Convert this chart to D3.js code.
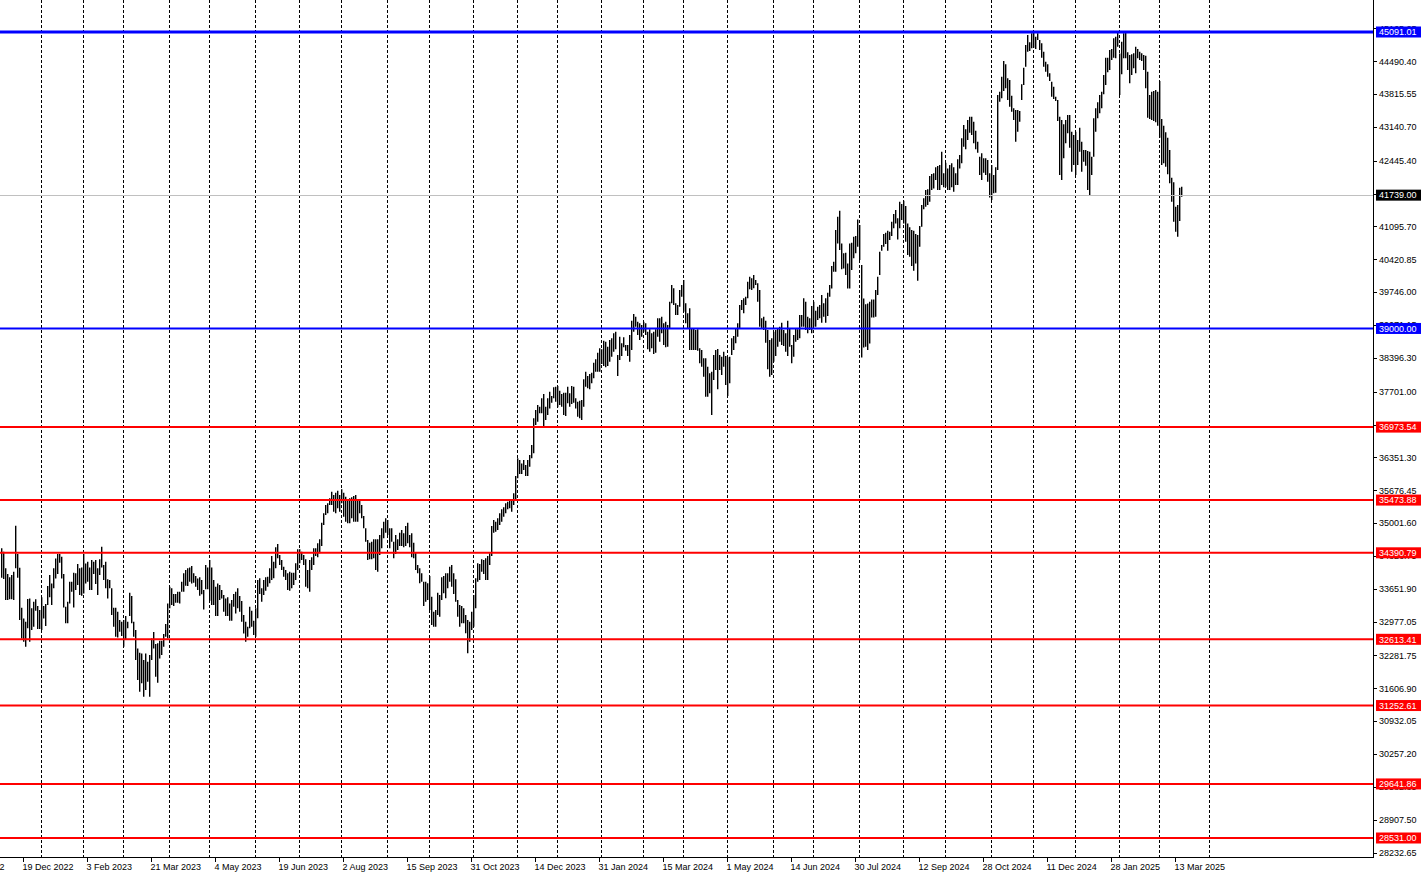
<!DOCTYPE html>
<html><head><meta charset="utf-8">
<script src="https://cdn.jsdelivr.net/npm/d3@7"></script>
<style>body{margin:0;background:#fff}svg{display:block}</style>
</head><body><svg id="c" width="1424" height="872"></svg>
<script>
const highs = [34482,34413,34071,33954,33886,33934,34002,34948,34365,34084,
33262,33043,32975,33441,33454,33249,33386,33434,33297,33214,
33475,33297,33338,33708,33934,33762,34071,34276,34365,34365,
34310,33954,33283,33386,33797,33797,33982,33968,34160,34071,
34091,34365,34173,34208,34091,34242,34208,34242,34071,34256,
34516,34139,34208,33845,33831,33660,33262,33262,33180,33009,
32975,33009,33091,32975,33571,33502,32975,32803,32427,32338,
32324,32187,32324,32153,32290,32632,32762,32516,32530,32584,
32584,32721,32927,33351,33694,33660,33543,33543,33591,33591,
33797,33968,34036,34071,34091,34119,33968,33913,33865,33886,
33831,33626,34139,34091,34242,34091,33831,33694,33762,33728,
33626,33523,33454,33475,33351,33420,33543,33591,33660,33502,
33400,33112,32975,32872,33283,33201,32996,33249,33831,33866,
33660,33831,33886,33900,34071,34325,34208,34503,34571,34345,
34242,34106,34037,33968,34003,33982,33982,34174,34462,34462,
34414,34345,34256,34037,34242,34297,34482,34482,34585,34667,
35010,35202,35373,35407,35510,35647,35578,35626,35667,35578,
35695,35626,35544,35489,35510,35530,35558,35578,35476,35476,
35373,35147,34893,34654,34599,34619,34667,34667,34667,34756,
34893,35030,35099,35065,34893,34893,34619,34756,34667,34804,
34859,34790,34941,35010,34756,34790,34599,34393,34140,34071,
33969,33797,33797,33763,33914,33489,33181,33215,33571,33523,
33886,33914,33969,33969,34106,34140,33969,33845,33420,33318,
33297,33249,33112,33010,32975,33181,33523,33866,34174,34160,
34256,34242,34277,34325,34380,34941,35065,35030,35099,35202,
35284,35325,35407,35441,35489,35489,35613,
35968,36331,36297,
36228,36297,36194,36297,36399,36605,37153,37324,37427,37393,
37564,37653,37393,37564,37701,37612,37790,37804,37817,37721,
37653,37680,37680,37804,37667,37817,37804,37564,37495,37516,
37529,37954,38112,38023,38064,38091,38297,38365,38502,38591,
38571,38749,38728,38626,38763,38797,38900,38934,38454,38831,
38694,38817,38660,38660,38865,39160,39297,39242,39139,39105,
39071,39139,39105,38934,38982,38900,38934,38982,39208,39208,
39242,39105,39139,39071,39550,39893,39824,39516,39482,39790,
39893,39996,39516,39311,39413,39002,39002,38968,38982,38591,
38557,38386,38386,38215,38078,38112,38454,38557,38578,38454,
38420,38523,38434,38406,38420,38797,38845,39002,39105,39482,
39585,39619,39653,39961,40064,40030,40098,39996,39927,39790,
39208,39242,39160,38969,38763,38797,38934,38969,39003,39037,
39119,38969,38900,39160,39003,38660,38866,39003,38982,39277,
39277,39619,39551,39242,39208,39462,39551,39366,39448,39482,
39688,39517,39619,39736,39893,
40282,40371,41022,41296,41419,
40748,40543,40556,40337,40748,40762,40885,40899,41241,41125,
40303,39618,39495,39515,39549,39597,39597,39789,40063,40577,
40714,40940,40967,41008,40988,41193,41351,41433,41262,41604,
41556,41625,41515,41159,41077,41022,41008,40940,40919,41104,
41536,41673,41844,41858,42132,42173,42187,42310,42337,42358,
42632,42187,42406,42289,42358,42392,42310,42187,42474,42563,
42906,43180,43091,43283,43351,43351,43248,43063,42837,42529,
42598,42495,42495,42461,42187,42358,42152,42310,43796,43865,
44173,44495,44427,44139,44105,43783,43523,43488,43488,43468,
44016,44358,44824,45030,44879,45064,45098,44995,45064,44927,
44858,44687,44481,44427,44242,44071,43968,43762,43694,43351,
43283,43194,43283,43386,43386,43043,42975,43043,42872,43125,
42838,42666,42666,42646,42632,42529,43317,43523,43646,43796,
43865,44208,44564,44564,44721,44742,44961,44995,45098,44650,
44893,45064,45098,44673,44618,44632,44653,44790,44742,44687,
44653,44618,44605,44276,43796,43865,43879,43899,43865,44084,
43303,43166,43029,42920,42666,42098,42002,41502,41536,41892,
41913];

const lows = [33879,33852,33420,33420,33434,33434,33420,34071,33879,33009,
32632,32564,32461,32838,32564,32803,32872,33201,32824,32824,
32803,33043,32886,33317,33475,33317,33660,33865,33954,34187,
33865,33269,32941,32941,33351,33591,33269,33626,33728,33523,
33509,33557,33762,33797,33626,33626,33954,33749,33523,33934,
34091,33831,33660,33454,33660,33112,32872,32667,32653,32769,
32680,32461,32612,32838,33091,32941,32667,32187,31776,31536,
31708,31433,31571,31742,31433,32187,32427,31845,31721,32221,
32290,32461,32667,32632,33249,33317,33297,33365,33365,33351,
33591,33591,33715,33708,33797,33762,33776,33694,33626,33509,
33537,33228,33640,33640,33406,33317,33317,33091,33091,33420,
33454,33180,33091,33091,32995,32995,33283,33146,33249,33180,
32975,32735,32564,32667,32838,32872,32701,32667,33044,33544,
33386,33523,33612,33694,33763,33831,33866,34071,34277,34140,
34037,33900,33831,33626,33612,33660,33729,33831,34037,34174,
34242,34140,33694,33660,33592,34037,34140,34325,34297,34379,
34530,34962,35167,35202,35373,35373,35236,35202,35304,35236,
35407,35133,35030,34996,34996,35099,35030,35030,35030,35202,
35099,34893,34619,34242,34256,34256,34277,34037,34003,34345,
34482,34688,34804,34756,34482,34619,34277,34366,34448,34530,
34530,34503,34530,34585,34503,34297,34277,34037,33969,33763,
33797,33297,33386,33420,33215,32907,32873,32873,33112,33078,
33420,33558,33455,33660,33797,33694,33544,33386,33078,32873,
32941,32941,32736,32325,32564,32804,32873,33249,33797,33831,
34003,33955,33831,33831,34140,34325,34804,34825,34859,34962,
35030,35133,35202,35284,35304,35236,35373,
35474,35920,36009,
36009,36091,35968,35968,36160,36331,36434,37016,37084,37256,
37256,36995,37119,37221,37358,37475,37564,37495,37379,37427,
37393,37221,37201,37461,37393,37447,37475,37358,37187,37153,
37119,37393,37804,37769,37749,37872,37975,38112,38112,38112,
38269,38228,38201,38228,38317,38420,38523,38571,38023,38352,
38434,38612,38543,38434,38317,38557,38934,39036,38865,38763,
38831,38934,38865,38571,38523,38591,38475,38502,38831,38728,
38900,38660,38612,38626,39002,39516,39482,39276,39276,39447,
39653,39345,39105,39002,38557,38557,38557,38557,38543,38283,
38215,38009,37598,37598,37667,37221,37941,38146,37749,38146,
38043,38215,37838,37612,37872,38454,38557,38694,38831,39002,
39379,39311,39482,39619,39804,39790,39824,39893,39550,39036,
39002,38968,38708,38160,38010,38044,38318,38434,38626,38729,
38660,38640,38523,38434,38626,38283,38421,38729,38763,38797,
39037,39037,38969,38900,38969,38900,39037,39037,39174,39208,
39119,39243,39119,39256,39654,
39823,40166,40166,40748,40611,
40214,40234,40097,39823,39823,40200,40440,40543,40680,40406,
38405,38611,38625,38556,38693,39227,39227,39241,39686,40097,
40597,40680,40734,40597,40817,40899,41057,41159,40830,41057,
41228,41159,40782,40508,40474,40282,40186,40337,39981,40680,
41091,41447,41502,41536,41604,41844,41878,42050,41844,41844,
41947,41899,41913,41844,41844,41899,41810,41947,41947,42289,
42392,42735,42680,42872,43022,42974,42803,42680,42611,42152,
42050,42200,42152,42015,41693,41639,41776,41789,42255,43660,
43728,43879,43934,43694,43557,43454,43283,42838,43043,43249,
43694,44002,44379,44687,44701,44756,44769,44742,44927,44721,
44564,44379,44276,44173,44084,43762,43714,43673,43262,42153,
42050,42495,42803,43009,42714,42221,42358,42153,42358,42632,
42221,42427,42344,41844,41728,42153,42529,43043,43317,43420,
43523,43810,44002,44262,44310,44516,44564,44550,44790,43796,
44221,44550,44550,44310,44036,44208,44344,44242,44550,44516,
44495,44310,43934,43331,43303,43283,43262,43235,43166,42920,
42358,42392,42324,42166,41981,41604,41193,40988,40885,41207,
41707];

const priceTicks = [45165.25,44490.40,43815.55,43140.70,42445.40,41770.55,41095.70,40420.85,39746.00,39071.15,38396.30,37701.00,37026.15,36351.30,35676.45,35001.60,34326.75,33651.90,32977.05,32281.75,31606.90,30932.05,30257.20,29582.35,28907.50,28232.65];
const blueLevels = [45091.01, 39000.00];
const redLevels = [36973.54, 35473.88, 34390.79, 32613.41, 31252.61, 29641.86, 28531.00];
const currentPrice = 41739.00;
const monthStartBars = [20,41,61,84,104,127,149,170,193,214,236,258,278,300,321,341,363,386,406,429,451,472,495,516,537,559,579,604];
const dateTickBars = [-21,11,43,75,107,139,171,203,235,267,299,331,363,395,427,459,491,523,555,587];
const dateLabels = ["3 Nov 2022","19 Dec 2022","3 Feb 2023","21 Mar 2023","4 May 2023","19 Jun 2023","2 Aug 2023","15 Sep 2023","31 Oct 2023","14 Dec 2023","31 Jan 2024","15 Mar 2024","1 May 2024","14 Jun 2024","30 Jul 2024","12 Sep 2024","28 Oct 2024","11 Dec 2024","28 Jan 2025","13 Mar 2025"];

const W = 1424, H = 872, PR = 1373, PB = 857;
const FONT = "'Liberation Sans', Arial, sans-serif";
const n = Math.min(highs.length, lows.length);
const bars = d3.range(n).map(i => ({i, h: Math.max(highs[i], lows[i]), l: Math.min(highs[i], lows[i])}));

const x = d3.scaleLinear().domain([0, 590]).range([1, 1181]);
const y = d3.scaleLinear().domain([28531.00, 45091.01]).range([838, 32]);

const svg = d3.select("#c");
svg.append("rect").attr("width", W).attr("height", H).attr("fill", "#fff");
svg.append("defs").append("clipPath").attr("id", "plot")
  .append("rect").attr("x", 0).attr("y", 0).attr("width", PR).attr("height", PB);
const plot = svg.append("g").attr("clip-path", "url(#plot)");

// month grid
plot.append("g").selectAll("line").data(monthStartBars).join("line")
  .attr("x1", d => x(d) + 0.5).attr("x2", d => x(d) + 0.5)
  .attr("y1", 0).attr("y2", PB)
  .attr("stroke", "#000").attr("stroke-width", 1)
  .attr("stroke-dasharray", "3,2").attr("shape-rendering", "crispEdges");

// bars
plot.append("g").selectAll("line").data(bars).join("line")
  .attr("x1", d => x(d.i) + 0.7).attr("x2", d => x(d.i) + 0.7)
  .attr("y1", d => y(d.h)).attr("y2", d => y(d.l))
  .attr("stroke", "#000").attr("stroke-width", 1.4);

// current price line
plot.append("line").attr("x1", 0).attr("x2", PR)
  .attr("y1", Math.round(y(currentPrice)) + 0.5).attr("y2", Math.round(y(currentPrice)) + 0.5)
  .attr("stroke", "#c0c0c0").attr("stroke-width", 1).attr("shape-rendering", "crispEdges");

// red levels
plot.append("g").selectAll("line").data(redLevels).join("line")
  .attr("x1", 0).attr("x2", PR)
  .attr("y1", d => y(d)).attr("y2", d => y(d))
  .attr("stroke", "#ff0000").attr("stroke-width", 2);

// blue levels
plot.append("g").selectAll("line").data(blueLevels).join("line")
  .attr("x1", 0).attr("x2", PR)
  .attr("y1", d => y(d)).attr("y2", d => y(d))
  .attr("stroke", "#0000ff").attr("stroke-width", (d, i) => i === 0 ? 3 : 2);

// axes frame
svg.append("line").attr("x1", PR + 0.5).attr("x2", PR + 0.5).attr("y1", 0).attr("y2", PB + 0.5)
  .attr("stroke", "#000").attr("shape-rendering", "crispEdges");
svg.append("line").attr("x1", 0).attr("x2", PR + 0.5).attr("y1", PB + 0.5).attr("y2", PB + 0.5)
  .attr("stroke", "#000").attr("shape-rendering", "crispEdges");

// price ticks & labels
const pt = svg.append("g");
pt.selectAll("line").data(priceTicks).join("line")
  .attr("x1", PR).attr("x2", PR + 4)
  .attr("y1", d => Math.round(y(d)) + 0.5).attr("y2", d => Math.round(y(d)) + 0.5)
  .attr("stroke", "#000").attr("shape-rendering", "crispEdges");
pt.selectAll("text").data(priceTicks).join("text")
  .attr("x", PR + 6).attr("y", d => y(d) + 3.3)
  .attr("font-family", FONT).attr("font-size", 9).attr("fill", "#000")
  .text(d => d.toFixed(2));

// date ticks & labels
const dt = svg.append("g");
dt.selectAll("line").data(dateTickBars).join("line")
  .attr("x1", d => x(d) + 0.5).attr("x2", d => x(d) + 0.5)
  .attr("y1", PB).attr("y2", PB + 5)
  .attr("stroke", "#000").attr("shape-rendering", "crispEdges");
dt.selectAll("text").data(dateTickBars).join("text")
  .attr("x", d => x(d) - 0.5).attr("y", 869.5)
  .attr("font-family", FONT).attr("font-size", 9).attr("fill", "#000")
  .text((d, i) => dateLabels[i]);

// level labels (boxes)
function levelBox(v, bg) {
  const g = svg.append("g");
  g.append("rect").attr("x", PR + 3).attr("y", y(v) - 5.5).attr("width", 45).attr("height", 11).attr("fill", bg);
  g.append("text").attr("x", PR + 6).attr("y", y(v) + 3.3)
    .attr("font-family", FONT).attr("font-size", 9).attr("fill", "#fff").text(v.toFixed(2));
}
redLevels.forEach(v => levelBox(v, "#ff0000"));
blueLevels.forEach(v => levelBox(v, "#0000ff"));
levelBox(currentPrice, "#000");
</script>
</body></html>
